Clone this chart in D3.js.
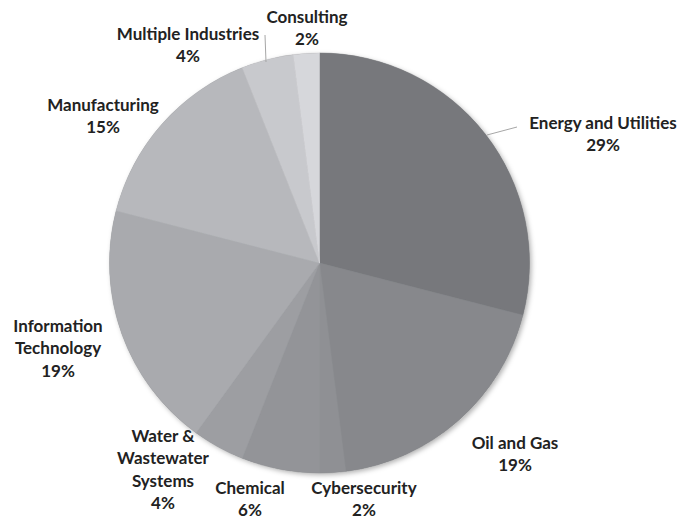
<!DOCTYPE html>
<html>
<head>
<meta charset="utf-8">
<script src="https://cdn.jsdelivr.net/npm/d3@7"></script>
<style>
  html, body { margin: 0; padding: 0; background: #ffffff; }
  svg text { font-family: "Lato", "Open Sans", sans-serif; font-weight: 700; fill: #222222; }
</style>
</head>
<body>
<svg id="chart" width="679" height="521"></svg>
<script>
// Share of organisations by industry sector (percent)
const categories = [
  "Energy and Utilities", "Oil and Gas", "Cybersecurity", "Chemical",
  "Water & Wastewater Systems", "Information Technology", "Manufacturing",
  "Multiple Industries", "Consulting"
];
const values = [29, 19, 2, 6, 4, 19, 15, 4, 2];
const sliceColors = [
  "#77787c", "#87888c", "#8f9094", "#939498", "#9d9ea2",
  "#a9aaae", "#b7b8bc", "#c8c9cd", "#d6d7db"
];
// Label text broken into lines, with label anchor positions
const labelLines = [
  ["Energy and Utilities"], ["Oil and Gas"], ["Cybersecurity"], ["Chemical"],
  ["Water &", "Wastewater", "Systems"], ["Information", "Technology"],
  ["Manufacturing"], ["Multiple Industries"], ["Consulting"]
];
const labelPos = [
  [603, 123], [515, 443], [364, 488], [250, 488],
  [163, 436], [58, 326], [103, 105], [188, 34], [307, 17]
];

const svg = d3.select("#chart");
const cx = 319.5, cy = 263, radius = 210;

const defs = svg.append("defs");
const shadow = defs.append("filter").attr("id", "pieShadow")
  .attr("x", "-10%").attr("y", "-10%").attr("width", "120%").attr("height", "120%");
shadow.append("feDropShadow")
  .attr("dx", 2).attr("dy", 2).attr("stdDeviation", 2.5)
  .attr("flood-color", "#000").attr("flood-opacity", 0.3);

const data = categories.map((c, i) => ({ name: c, value: values[i], color: sliceColors[i], lines: labelLines[i], pos: labelPos[i] }));

const pie = d3.pie().sort(null).value(d => d.value);
const arc = d3.arc().innerRadius(0).outerRadius(radius);
const arcs = pie(data);

const g = svg.append("g").attr("transform", `translate(${cx},${cy})`);
g.append("circle").attr("r", radius).attr("fill", "#888").attr("filter", "url(#pieShadow)");
g.selectAll("path.slice")
  .data(arcs)
  .join("path")
  .attr("class", "slice")
  .attr("d", arc)
  .attr("fill", d => d.data.color)
  .attr("stroke", d => d.data.color)
  .attr("stroke-width", 0.5);

// Leader lines for labels placed away from their slices
const leaders = [
  { i: 0, pts: [[487, 135], [517, 127]] },
  { i: 7, pts: [[265, 35], [266, 62]] }
];
svg.selectAll("path.leader")
  .data(leaders)
  .join("path")
  .attr("class", "leader")
  .attr("d", d => d3.line()(d.pts))
  .attr("fill", "none")
  .attr("stroke", "#a6a6a6")
  .attr("stroke-width", 1);

const lineH = 22.5;
const labels = svg.selectAll("text.label")
  .data(arcs)
  .join("text")
  .attr("class", "label")
  .attr("text-anchor", "middle")
  .attr("font-size", "17px");
labels.each(function(d) {
  const t = d3.select(this);
  const [x, y] = d.data.pos;
  const lines = d.data.lines.concat([d.data.value + "%"]);
  lines.forEach((ln, k) => {
    t.append("tspan").attr("x", x).attr("y", y + k * lineH).attr("dy", "0.35em").text(ln);
  });
});
</script>
</body>
</html>
